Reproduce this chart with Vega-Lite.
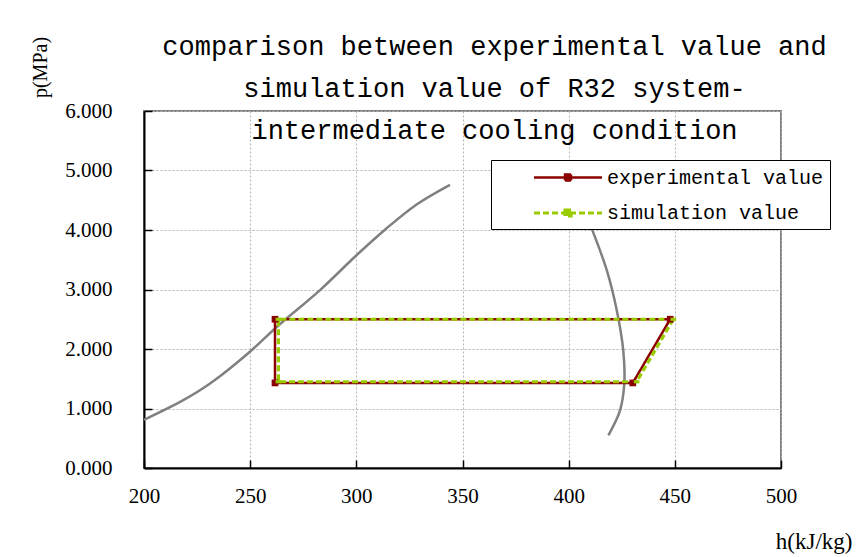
{
  "$schema": "https://vega.github.io/schema/vega-lite/v6.json",
  "width": 637,
  "height": 357,
  "autosize": {"type": "none"},
  "padding": {"left": 144, "top": 111, "right": 87, "bottom": 89},
  "background": "white",
  "title": {
    "text": ["comparison between experimental value and", "simulation value of R32 system-", "intermediate cooling condition"],
    "font": "Liberation Mono",
    "fontSize": 27,
    "fontWeight": "normal",
    "lineHeight": 42,
    "anchor": "middle",
    "frame": "group",
    "offset": -33,
    "dx": 32,
    "dy": 76,
    "color": "black"
  },
  "datasets": {
    "sat": [
      {"branch": "liquid", "i": 1, "h": 200.0, "p": 0.81},
      {"branch": "liquid", "i": 2, "h": 218.5, "p": 1.14},
      {"branch": "liquid", "i": 3, "h": 231.1, "p": 1.42},
      {"branch": "liquid", "i": 4, "h": 249.9, "p": 1.955},
      {"branch": "liquid", "i": 5, "h": 262.5, "p": 2.37},
      {"branch": "liquid", "i": 6, "h": 282.9, "p": 2.99},
      {"branch": "liquid", "i": 7, "h": 300.2, "p": 3.58},
      {"branch": "liquid", "i": 8, "h": 314.3, "p": 4.03},
      {"branch": "liquid", "i": 9, "h": 328.4, "p": 4.43},
      {"branch": "liquid", "i": 10, "h": 344.1, "p": 4.76},
      {"branch": "vapor", "i": 1, "h": 409.8, "p": 4.12},
      {"branch": "vapor", "i": 2, "h": 417.9, "p": 3.33},
      {"branch": "vapor", "i": 3, "h": 422.6, "p": 2.66},
      {"branch": "vapor", "i": 4, "h": 425.7, "p": 1.98},
      {"branch": "vapor", "i": 5, "h": 426.2, "p": 1.42},
      {"branch": "vapor", "i": 6, "h": 424.2, "p": 0.97},
      {"branch": "vapor", "i": 7, "h": 418.7, "p": 0.55}
    ],
    "cycle": [
      {"series": "experimental value", "step": 1, "h": 447.8, "p": 2.50},
      {"series": "experimental value", "step": 2, "h": 261.7, "p": 2.50},
      {"series": "experimental value", "step": 3, "h": 261.7, "p": 1.43},
      {"series": "experimental value", "step": 4, "h": 430.2, "p": 1.43},
      {"series": "experimental value", "step": 5, "h": 447.8, "p": 2.50},
      {"series": "simulation value", "step": 1, "h": 449.3, "p": 2.50},
      {"series": "simulation value", "step": 2, "h": 263.3, "p": 2.50},
      {"series": "simulation value", "step": 3, "h": 263.3, "p": 1.45},
      {"series": "simulation value", "step": 4, "h": 432.0, "p": 1.45},
      {"series": "simulation value", "step": 5, "h": 449.3, "p": 2.50}
    ]
  },
  "config": {
    "view": {"stroke": "#808080", "strokeWidth": 2},
    "axis": {
      "labelFont": "Liberation Serif",
      "labelFontSize": 21,
      "labelColor": "black",
      "titleFont": "Liberation Serif",
      "titleFontWeight": "normal",
      "titleColor": "black",
      "domainColor": "black",
      "domainWidth": 2,
      "tickColor": "black",
      "tickWidth": 1.5,
      "tickSize": -8,
      "gridColor": "#b4b4b4",
      "gridDash": [2, 2],
      "gridWidth": 1,
      "labelFlush": false
    }
  },
  "layer": [
    {
      "data": {"name": "sat"},
      "mark": {"type": "line", "color": "#808080", "strokeWidth": 2.5, "interpolate": "catmull-rom"},
      "encoding": {
        "x": {
          "field": "h", "type": "quantitative",
          "scale": {"domain": [200, 500], "nice": false},
          "axis": {
            "values": [200, 250, 300, 350, 400, 450, 500],
            "format": "d",
            "title": "h(kJ/kg)",
            "titleFontSize": 23,
            "titleX": 708,
            "titleY": 73,
            "titleAlign": "right",
            "titleBaseline": "middle",
            "titleAngle": 0,
            "labelPadding": 25
          }
        },
        "y": {
          "field": "p", "type": "quantitative",
          "scale": {"domain": [0, 6], "nice": false},
          "axis": {
            "values": [0, 1, 2, 3, 4, 5, 6],
            "format": ".3f",
            "title": "p(MPa)",
            "titleFontSize": 20,
            "titleX": -104,
            "titleY": -44,
            "titleAngle": 270,
            "titleAlign": "center",
            "titleBaseline": "middle",
            "labelPadding": 40
          }
        },
        "detail": {"field": "branch"},
        "order": {"field": "i", "type": "quantitative"}
      }
    },
    {
      "data": {"name": "cycle"},
      "mark": {"type": "line"},
      "encoding": {
        "x": {"field": "h", "type": "quantitative"},
        "y": {"field": "p", "type": "quantitative"},
        "order": {"field": "step", "type": "quantitative"},
        "color": {
          "field": "series", "type": "nominal",
          "scale": {"domain": ["experimental value", "simulation value"], "range": ["#8B0000", "#99CC00"]},
          "legend": {
            "title": null,
            "orient": "none",
            "legendX": 347,
            "legendY": 49,
            "fillColor": "white",
            "strokeColor": "black",
            "padding": 6,
            "rowPadding": 13,
            "symbolType": "M-3.4,0H3.4M-0.3,-0.3H0.3V0.3H-0.3Z",
            "symbolSize": 400,
            "symbolStrokeWidth": 2.5,
            "symbolOffset": 59,
            "labelOffset": 27,
            "labelFont": "Liberation Mono",
            "labelFontSize": 20,
            "labelColor": "black",
            "labelLimit": 400,
            "encode": {
              "symbols": {
                "update": {
                  "fill": {"scale": "color", "field": "value"},
                  "fillOpacity": {"value": 1},
                  "opacity": {"value": 1},
                  "strokeDash": {"signal": "datum.value === 'simulation value' ? [6, 3] : [1, 0]"}
                }
              }
            }
          }
        },
        "strokeDash": {
          "field": "series", "type": "nominal",
          "scale": {"domain": ["experimental value", "simulation value"], "range": [[1, 0], [6, 3]]},
          "legend": null
        },
        "strokeWidth": {
          "field": "series", "type": "nominal",
          "scale": {"domain": ["experimental value", "simulation value"], "range": [2.5, 3.2]},
          "legend": null
        }
      }
    },
    {
      "data": {"name": "cycle"},
      "transform": [{"filter": "datum.series === 'experimental value' && datum.step < 5"}],
      "mark": {"type": "point", "shape": "square", "filled": true, "size": 45, "opacity": 1, "color": "#8B0000"},
      "encoding": {
        "x": {"field": "h", "type": "quantitative"},
        "y": {"field": "p", "type": "quantitative"}
      }
    },
    {
      "data": {"name": "cycle"},
      "transform": [{"filter": "datum.series === 'simulation value' && datum.step < 5"}],
      "mark": {"type": "point", "shape": "M-1.4,-0.8H1.4V0.8H-1.4Z", "filled": true, "size": 16, "opacity": 1, "color": "#99CC00"},
      "encoding": {
        "x": {"field": "h", "type": "quantitative"},
        "y": {"field": "p", "type": "quantitative"}
      }
    }
  ]
}
